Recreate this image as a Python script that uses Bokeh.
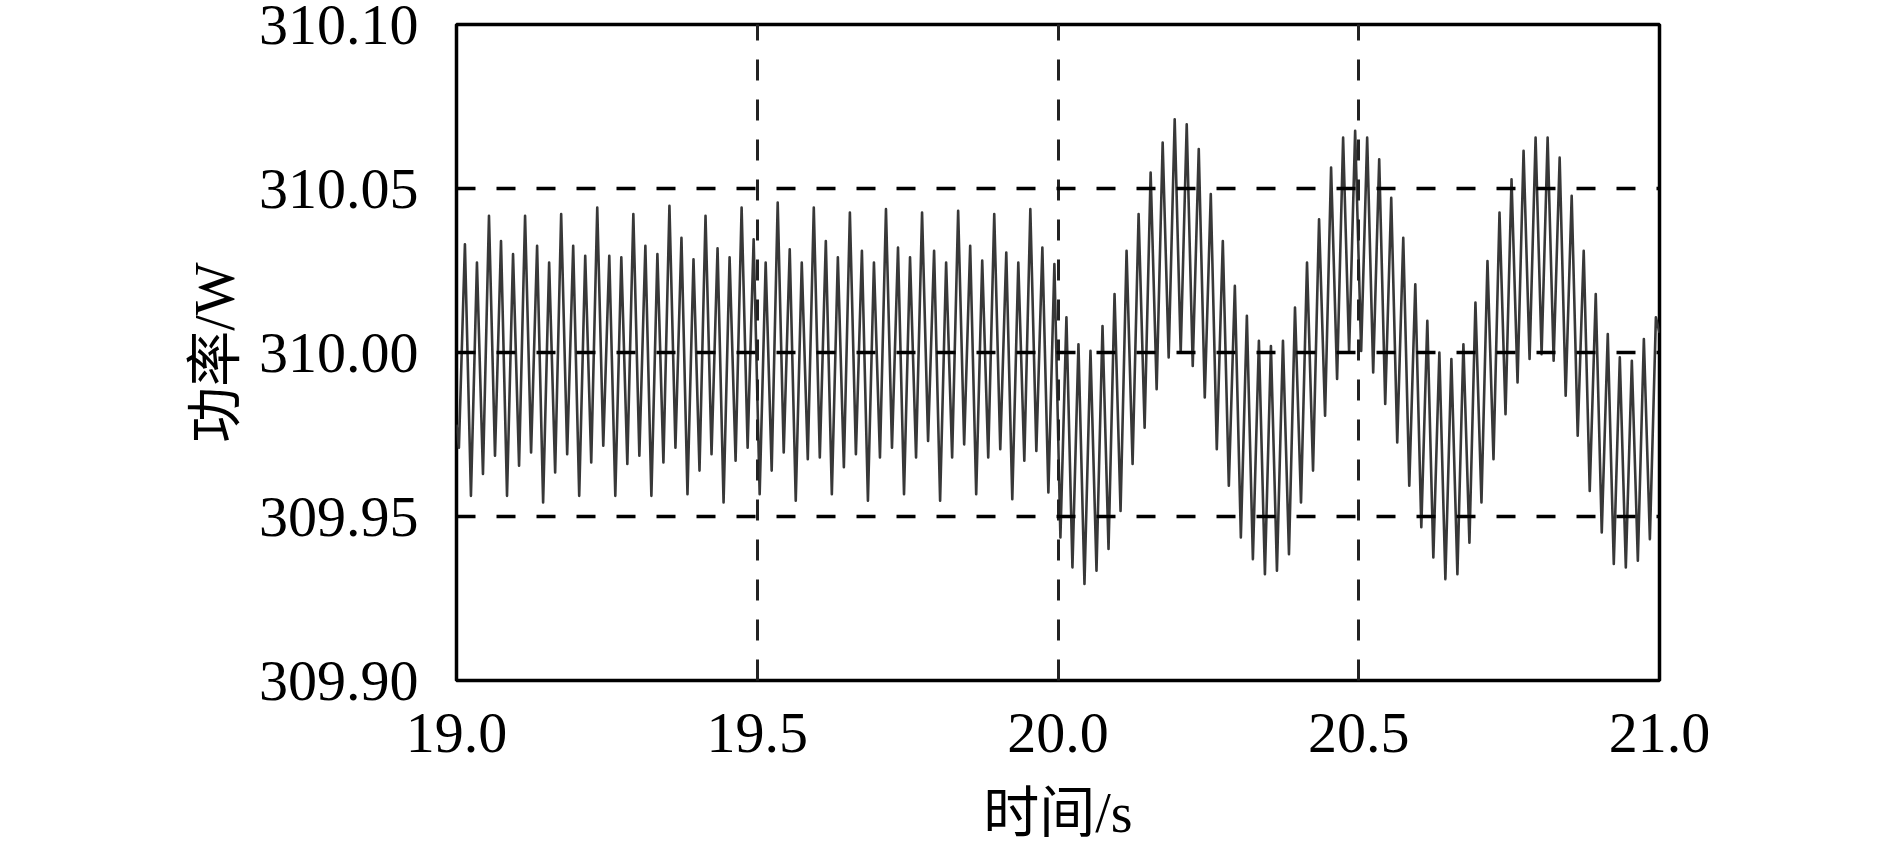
import numpy as np
from bokeh.plotting import figure
from bokeh.models import Range1d, FixedTicker, PrintfTickFormatter
from bokeh.embed import file_html
from bokeh.resources import INLINE

# ---- data ----
x_ticks = [19.0, 19.5, 20.0, 20.5, 21.0]
y_ticks = [309.90, 309.95, 310.00, 310.05, 310.10]
x_label = "时间/s"
y_label = "功率/W"

# 50 Hz oscillation: one extremum every 0.01 s
half_period = 0.01
t_start, p_start = 19.0, 309.978
first_trough_t = 19.004
t_end, p_end = 21.0, 310.006

trough_values = [
    309.9710, 309.9563, 309.9630, 309.9685, 309.9563, 309.9655, 309.9695, 309.9543, 309.9634, 309.9690, 309.9563, 309.9665, 309.9716,
    309.9563, 309.9660, 309.9685, 309.9563, 309.9665, 309.9710, 309.9568, 309.9640, 309.9690, 309.9543, 309.9670, 309.9710,
    309.9568, 309.9640, 309.9695, 309.9548, 309.9675, 309.9680, 309.9568, 309.9650, 309.9690, 309.9548, 309.9680, 309.9710, 309.9568,
    309.9680, 309.9730, 309.9548, 309.9680, 309.9720, 309.9568, 309.9680, 309.9705, 309.9553, 309.9670, 309.9700, 309.9573,
    309.9436, 309.9345, 309.9294, 309.9335, 309.9401, 309.9517, 309.9660, 309.9771, 309.9888, 309.9985, 310.0000, 309.9959, 309.9863,
    309.9705, 309.9594, 309.9436, 309.9370, 309.9324, 309.9335, 309.9385, 309.9543, 309.9640, 309.9807, 309.9919, 310.0000,
    310.0005, 309.9939, 309.9843, 309.9726, 309.9594, 309.9467, 309.9375, 309.9309, 309.9324, 309.9420, 309.9543, 309.9675, 309.9812,
    309.9909, 309.9980, 309.9995, 309.9975, 309.9868, 309.9746, 309.9578, 309.9451, 309.9355, 309.9345, 309.9365, 309.9431,
]

peak_values = [
    310.0330, 310.0274, 310.0417, 310.0340, 310.0300, 310.0417, 310.0325, 310.0274, 310.0422, 310.0325, 310.0295, 310.0442,
    310.0295, 310.0290, 310.0422, 310.0325, 310.0300, 310.0447, 310.0350, 310.0284, 310.0417, 310.0318, 310.0290, 310.0442, 310.0345,
    310.0274, 310.0457, 310.0315, 310.0274, 310.0442, 310.0340, 310.0290, 310.0427, 310.0310, 310.0274, 310.0437, 310.0320,
    310.0290, 310.0427, 310.0310, 310.0274, 310.0432, 310.0325, 310.0280, 310.0422, 310.0305, 310.0274, 310.0437, 310.0320, 310.0270,
    310.0107, 310.0025, 310.0005, 310.0081, 310.0178, 310.0310, 310.0422, 310.0549, 310.0640, 310.0711, 310.0696, 310.0620,
    310.0483, 310.0340, 310.0203, 310.0112, 310.0036, 310.0020, 310.0036, 310.0137, 310.0274, 310.0406, 310.0564, 310.0655, 310.0676,
    310.0655, 310.0589, 310.0472, 310.0350, 310.0208, 310.0097, 310.0000, 309.9980, 310.0025, 310.0152, 310.0279, 310.0427,
    310.0528, 310.0615, 310.0655, 310.0655, 310.0594, 310.0478, 310.0310, 310.0178, 310.0056, 309.9985, 309.9975, 310.0041, 310.0107,
]

# ---- assemble the trace (alternating trough / peak) ----
t = [t_start]
pw = [p_start]
for i, (lo, hi) in enumerate(zip(trough_values, peak_values)):
    t.append(first_trough_t + 2 * i * half_period)
    pw.append(lo)
    t.append(first_trough_t + (2 * i + 1) * half_period)
    pw.append(hi)
t.append(t_end)
pw.append(p_end)

# ---- figure ----
p = figure(width=1890, height=846, output_backend="svg", toolbar_location=None,
           x_range=Range1d(x_ticks[0], x_ticks[-1]), y_range=Range1d(y_ticks[0], y_ticks[-1]),
           min_border_left=456, min_border_right=231, min_border_top=24, min_border_bottom=165,
           background_fill_color="white", border_fill_color="white")

p.line(t, pw, line_color="#383838", line_width=2.6, line_join="round")

p.outline_line_color = "black"
p.outline_line_width = 3.5
p.outline_line_alpha = 1

serif = "Liberation Serif, Noto Sans CJK SC"

p.xaxis.ticker = FixedTicker(ticks=x_ticks)
p.yaxis.ticker = FixedTicker(ticks=y_ticks)
p.xaxis.formatter = PrintfTickFormatter(format="%.1f")
p.yaxis.formatter = PrintfTickFormatter(format="%.2f")

for ax in (p.xaxis, p.yaxis):
    ax.axis_line_color = None
    ax.major_tick_line_color = None
    ax.minor_tick_line_color = None
    ax.major_tick_out = 0
    ax.major_tick_in = 0
    ax.major_label_text_font = "Liberation Serif"
    ax.major_label_text_font_size = "58px"
    ax.major_label_text_color = "black"
    ax.axis_label_text_font = serif
    ax.axis_label_text_font_size = "56px"
    ax.axis_label_text_font_style = "normal"
    ax.axis_label_text_color = "black"

p.xaxis.axis_label = x_label
p.yaxis.axis_label = y_label
p.xaxis.major_label_standoff = 33
p.xaxis.axis_label_standoff = 27
p.yaxis.major_label_standoff = 38
p.yaxis.axis_label_standoff = 10

p.xgrid.grid_line_color = "#222222"
p.xgrid.grid_line_width = 3
p.xgrid.grid_line_dash = "21 19"
p.xgrid.level = "overlay"
p.ygrid.grid_line_color = "black"
p.ygrid.grid_line_width = 3.5
p.ygrid.grid_line_dash = "19 21"
p.ygrid.level = "overlay"

open("out.html", "w").write(file_html(p, INLINE, title="power"))
